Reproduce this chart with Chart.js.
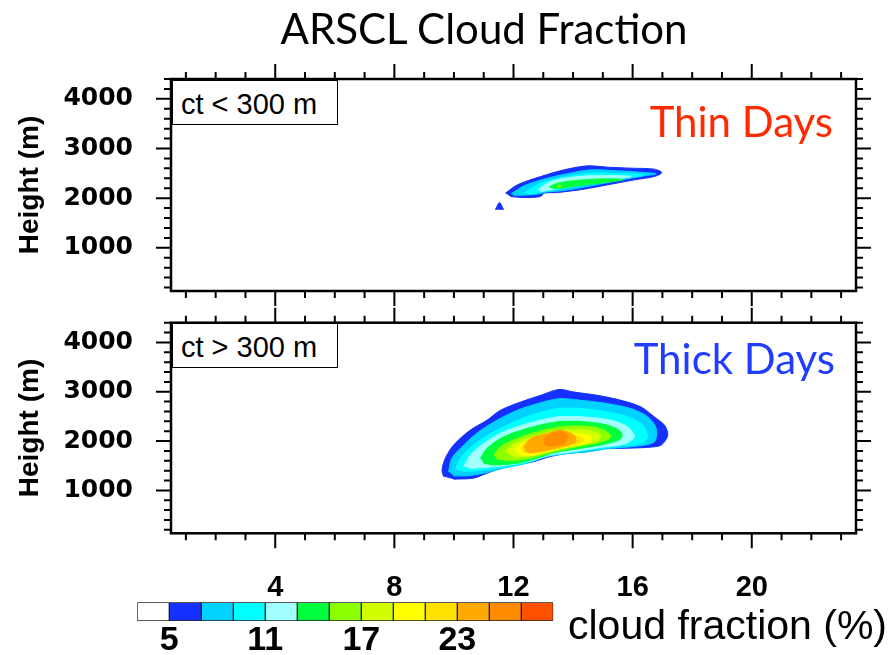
<!DOCTYPE html>
<html>
<head>
<meta charset="utf-8">
<script src="https://cdn.jsdelivr.net/npm/chart.js@4.4.1/dist/chart.umd.min.js"></script>
<style>
  html, body { margin: 0; padding: 0; background: #fff; overflow: hidden; }
  #page { position: relative; width: 895px; height: 655px; }
  canvas { position: absolute; left: 0; }
  .txt { position: absolute; white-space: nowrap; line-height: 1; }
  #title { font-family: Lato, sans-serif; font-size: 42px; left: 484px; top: 7px; transform: translateX(-50%); color: #000; }
  .days { font-family: Lato, sans-serif; font-size: 42px; }
  .ctbox { position: absolute; left: 172px; width: 166px; height: 45px; box-sizing: border-box;
           border: 1.5px solid #000; background: #fff; }
  .ctbox span { position: absolute; left: 8px; top: 9px; font-family: "Liberation Sans", Arial, sans-serif;
                font-size: 29px; line-height: 1; white-space: nowrap; }
  #cbTitle { font-family: "Liberation Sans", Arial, sans-serif; font-size: 41px; left: 568px; top: 605px; }
</style>
</head>
<body>
<div id="page">
  <canvas id="thinChart" width="895" height="310" style="top:0px"></canvas>
  <canvas id="thickChart" width="895" height="355" style="top:300px"></canvas>
  <canvas id="barChart" width="895" height="65" style="top:590px"></canvas>
  <div class="txt" id="title">ARSCL Cloud Fraction</div>
  <div class="txt days" style="right:62px; top:100px; color:#ff2a00">Thin Days</div>
  <div class="txt days" style="right:60px; top:337px; color:#1f3cff">Thick Days</div>
  <div class="ctbox" style="top:80px"><span>ct &lt; 300 m</span></div>
  <div class="ctbox" style="top:323px"><span>ct &gt; 300 m</span></div>
  <div class="txt" id="cbTitle">cloud fraction (%)</div>
</div>
<script>
// ===== data =====
// contour levels (cloud fraction %), lower bound of each filled band
const levels = [5, 7, 9, 11, 13, 15, 17, 19, 21, 23, 25, 27];
const levelColors = ['#1530ff', '#00d2ff', '#00ffff', '#a0ffff', '#00ff3c', '#8cff00',
                     '#d2ff00', '#ffff00', '#ffe100', '#ffaa00', '#ff8c00', '#ff5000'];

// colour bar boxes: edges and the labels printed under it
const barEdges = [3, 5, 7, 9, 11, 13, 15, 17, 19, 21, 23, 25, 27, 29];
const barColors = ['#ffffff'].concat(levelColors);
const barLabels = [5, 11, 17, 23];

// axes
const hourTicks = [4, 8, 12, 16, 20];
const heightTicks = [1000, 2000, 3000, 4000];

// contour outlines, [hour, height m], thin days (ct < 300 m)
const thin5  = [[11.73,2101],[12.13,2268],[12.91,2435],[13.70,2570],[14.49,2651],[15.16,2624],[15.95,2604],
                [16.73,2584],[16.98,2516],[16.73,2435],[16.06,2369],[15.16,2268],[14.37,2181],[13.47,2113],
                [13.02,2101],[12.91,2032],[12.35,2012],[11.90,2032]];
const thin5b = [[11.39,1765],[11.53,1911],[11.67,1765]];
const thin7  = [[11.92,2087],[12.35,2248],[13.14,2403],[13.92,2504],[14.60,2570],[15.50,2550],[16.39,2516],
                [16.79,2490],[16.39,2449],[15.50,2355],[14.60,2248],[13.70,2153],[13.14,2127],[12.80,2081],
                [12.35,2061],[12.01,2061]];
const thin9  = [[12.35,2101],[12.91,2302],[13.81,2435],[14.60,2504],[15.72,2490],[16.39,2469],[15.72,2403],
                [14.60,2302],[13.70,2201],[13.02,2133],[12.57,2081]];
const thin11 = [[12.80,2167],[13.25,2334],[14.15,2435],[15.16,2455],[15.95,2435],[15.16,2369],[14.15,2268],
                [13.36,2181],[12.91,2133]];
const thin13 = [[13.19,2222],[13.47,2302],[14.37,2369],[15.27,2389],[15.67,2369],[15.27,2328],[14.37,2268],
                [13.59,2201],[13.31,2193]];
const thin15 = [[13.45,2235],[13.53,2265],[13.62,2240],[13.53,2210]];

// thick days (ct > 300 m)
const thick5  = [[9.65,1282],[9.60,1416],[9.71,1651],[9.99,1920],[10.55,2222],[11.11,2423],[11.56,2624],
                 [12.24,2792],[12.91,2927],[13.53,3047],[14.03,2994],[14.82,2927],[15.61,2826],[16.28,2692],
                 [16.73,2490],[17.07,2322],[17.18,2121],[16.96,1920],[16.51,1873],[15.61,1852],[15.16,1852],
                 [14.49,1785],[13.81,1752],[13.14,1671],[12.69,1584],[11.79,1483],[11.11,1349],[10.66,1248],
                 [9.99,1228]];
const thick7  = [[9.82,1383],[9.93,1651],[10.33,1920],[10.83,2188],[11.45,2423],[12.12,2624],[12.80,2759],
                 [13.53,2859],[14.26,2826],[15.16,2759],[15.94,2658],[16.51,2490],[16.79,2255],[16.73,1987],
                 [16.17,1899],[15.27,1852],[14.48,1785],[13.70,1738],[13.02,1671],[12.46,1550],[11.67,1450],
                 [11.00,1349],[10.44,1295],[9.99,1295]];
const thick9  = [[10.05,1416],[10.21,1651],[10.66,1920],[11.23,2155],[11.90,2356],[12.57,2524],[13.47,2658],
                 [14.26,2658],[15.16,2591],[15.83,2490],[16.34,2322],[16.51,2087],[16.28,1953],[15.49,1899],
                 [14.71,1832],[13.81,1765],[13.14,1698],[12.57,1584],[11.79,1483],[11.00,1416],[10.33,1383]];
const thick11 = [[10.33,1483],[10.55,1718],[11.00,1953],[11.67,2188],[12.46,2356],[13.47,2490],[14.37,2490],
                 [15.27,2423],[15.83,2289],[16.06,2087],[15.72,1940],[14.93,1873],[14.03,1785],[13.25,1718],
                 [12.69,1617],[12.01,1530],[11.11,1470],[10.55,1443]];
const thick13 = [[10.89,1651],[11.11,1852],[11.67,2087],[12.46,2255],[13.47,2390],[14.37,2390],[15.16,2322],
                 [15.61,2188],[15.61,2054],[15.16,1953],[14.26,1852],[13.36,1765],[12.80,1651],[12.12,1550],
                 [11.34,1517],[11.00,1550]];
const thick15 = [[11.34,1718],[11.56,1886],[12.12,2054],[12.80,2188],[13.58,2289],[14.48,2302],[15.05,2222],
                 [15.27,2087],[14.99,1987],[14.15,1886],[13.36,1785],[12.69,1671],[12.01,1604],[11.45,1631]];
const thick17 = [[11.73,1785],[11.96,1920],[12.46,2054],[13.14,2168],[13.70,2222],[14.48,2222],[14.93,2121],
                 [14.82,2007],[14.03,1899],[13.25,1806],[12.57,1698],[12.01,1671]];
const thick19 = [[12.01,1819],[12.24,1940],[12.80,2054],[13.36,2134],[14.03,2155],[14.60,2087],[14.60,1987],
                 [13.92,1899],[13.14,1785],[12.69,1718],[12.24,1718]];
const thick21 = [[12.24,1852],[12.46,1987],[13.02,2087],[13.58,2121],[14.15,2101],[14.37,2020],[14.03,1920],
                 [13.25,1819],[12.69,1752],[12.35,1765]];
const thick23 = [[12.35,1886],[12.57,2054],[13.14,2155],[13.58,2222],[14.03,2121],[14.09,1987],[13.70,1899],
                 [13.14,1819],[12.57,1765],[12.40,1799]];
const thick25 = [[13.02,2054],[13.30,2155],[13.58,2188],[13.81,2121],[13.75,1987],[13.47,1920],[13.19,1899],
                 [13.02,1953]];

const thinBands = [[5, thin5], [5, thin5b], [7, thin7], [9, thin9], [11, thin11], [13, thin13], [15, thin15]];
const thickBands = [[5, thick5], [7, thick7], [9, thick9], [11, thick11], [13, thick13], [15, thick15],
                    [17, thick17], [19, thick19], [21, thick21], [23, thick23], [25, thick25]];

// ===== drawing =====
const HELV = '"Liberation Sans", Arial, sans-serif';

// frame + outward tick marks on all four sides (NCL style)
const framePlugin = {
  id: 'frame',
  afterDraw(chart) {
    const {ctx, chartArea: a, scales: {x, y}} = chart;
    ctx.save();
    ctx.strokeStyle = '#000';
    ctx.lineWidth = 2;
    ctx.beginPath();
    for (let h = 1; h <= 23; h++) {
      const p = x.getPixelForValue(h);
      const len = h % 4 === 0 ? 15 : 7;
      ctx.moveTo(p, a.top); ctx.lineTo(p, a.top - len);
      ctx.moveTo(p, a.bottom); ctx.lineTo(p, a.bottom + len);
    }
    for (let z = 200; z <= 4400; z += 200) {
      const p = y.getPixelForValue(z);
      const len = z % 1000 === 0 ? 15 : 7;
      ctx.moveTo(a.left, p); ctx.lineTo(a.left - len, p);
      ctx.moveTo(a.right, p); ctx.lineTo(a.right + len, p);
    }
    ctx.stroke();
    ctx.lineWidth = 2.5;
    ctx.strokeRect(a.left, a.top, a.right - a.left, a.bottom - a.top);
    ctx.restore();
  }
};

// fixed axis size, and no extra room reserved for the end labels
function fixSize(s, w, h) {
  if (w !== null) s.width = w;
  if (h !== null) s.height = h;
  s.paddingTop = 0; s.paddingBottom = 0; s.paddingLeft = 0; s.paddingRight = 0;
}

function bandDatasets(bands) {
  return bands.map(([lev, pts]) => {
    const i = levels.indexOf(lev);
    return {
      data: pts.map(([h, z]) => ({x: h, y: z})),
      backgroundColor: levelColors[i],
      borderColor: levelColors[i],
      borderWidth: 1,
      fill: 'shape',
      tension: 0.3,
      pointRadius: 0,
      order: 50 - i
    };
  });
}

function panel(id, bands, topPad, xAxisHeight, showHours) {
  return new Chart(document.getElementById(id), {
    type: 'line',
    data: {datasets: bandDatasets(bands)},
    options: {
      responsive: false,
      animation: false,
      events: [],
      layout: {padding: {top: topPad, right: 39, left: 0, bottom: 0}},
      plugins: {legend: {display: false}, tooltip: {enabled: false}},
      scales: {
        x: {
          type: 'linear', min: 0.5, max: 23.5,
          grid: {display: false, drawTicks: false},
          border: {display: false},
          afterBuildTicks: s => { s.ticks = hourTicks.map(v => ({value: v})); },
          afterFit: s => fixSize(s, null, xAxisHeight),
          ticks: {
            display: showHours, autoSkip: false, maxRotation: 0, padding: 37, color: '#000',
            font: {family: HELV, weight: 'bold', size: 29}
          }
        },
        y: {
          type: 'linear', min: 130, max: 4400,
          grid: {display: false, drawTicks: false},
          border: {display: false},
          afterBuildTicks: s => { s.ticks = heightTicks.map(v => ({value: v})); },
          afterFit: s => fixSize(s, 171, null),
          ticks: {
            padding: 38, color: '#000', callback: v => String(v),
            font: {family: '"DejaVu Sans", sans-serif', weight: 'bold', size: 25}
          },
          title: {
            display: true, text: 'Height (m)', color: '#000', padding: {top: 13, bottom: 0},
            font: {family: HELV, weight: 'bold', size: 28}
          }
        }
      }
    },
    plugins: [framePlugin]
  });
}

panel('thinChart', thinBands, 79, 19, false);
panel('thickChart', thickBands, 22.7, 121.7, true);

// colour bar
new Chart(document.getElementById('barChart'), {
  type: 'bar',
  data: {
    labels: ['cb'],
    datasets: barColors.map((c, i) => ({
      data: [[barEdges[i], barEdges[i + 1]]],
      backgroundColor: c,
      borderColor: '#222',
      borderWidth: 1,
      borderSkipped: false,
      grouped: false,
      barPercentage: 1,
      categoryPercentage: 1
    }))
  },
  options: {
    indexAxis: 'y',
    responsive: false,
    animation: false,
    events: [],
    layout: {padding: {top: 12.3, left: 137.3, right: 341.7, bottom: 0}},
    plugins: {legend: {display: false}, tooltip: {enabled: false}},
    scales: {
      y: {display: false},
      x: {
        type: 'linear', min: barEdges[0], max: barEdges[barEdges.length - 1],
        grid: {display: false, drawTicks: false},
        border: {display: false},
        afterBuildTicks: s => { s.ticks = barLabels.map(v => ({value: v})); },
        afterFit: s => fixSize(s, null, 34),
        ticks: {
          autoSkip: false, maxRotation: 0, padding: 3, color: '#000',
          font: {family: HELV, weight: 'bold', size: 34, lineHeight: 1}
        }
      }
    }
  }
});
</script>
</body>
</html>
